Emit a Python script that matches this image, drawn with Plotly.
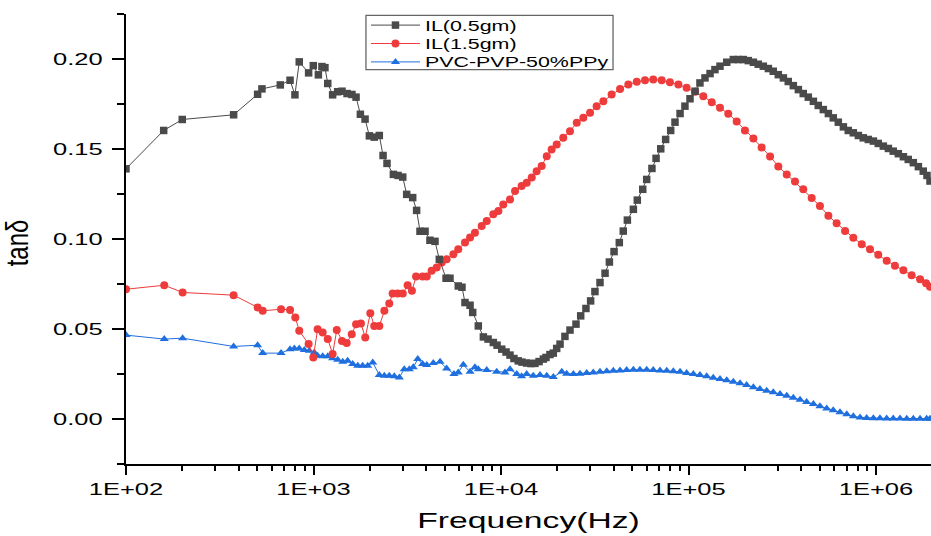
import numpy as np
import plotly.graph_objects as go

# ---------------- data ----------------
il05_log10f = [2.000, 2.201, 2.300, 2.574, 2.702, 2.725, 2.823, 2.875, 2.901, 2.924,
               2.974, 2.999, 3.026, 3.045, 3.061, 3.076, 3.102, 3.129, 3.152, 3.179,
               3.205, 3.227, 3.250, 3.275, 3.298, 3.324, 3.351, 3.371, 3.392, 3.426,
               3.451, 3.476, 3.497, 3.529, 3.550, 3.568, 3.595, 3.621, 3.648, 3.671,
               3.707, 3.728, 3.772, 3.792, 3.808, 3.835, 3.849, 3.879, 3.906, 3.931,
               3.959, 3.979, 4.004, 4.027, 4.048, 4.069, 4.092, 4.112, 4.137, 4.160,
               4.181, 4.203, 4.226, 4.240, 4.261, 4.279, 4.297, 4.315, 4.341, 4.368,
               4.400, 4.425, 4.453, 4.478, 4.501, 4.528, 4.555, 4.578, 4.603, 4.631,
               4.652, 4.674, 4.706, 4.727, 4.756, 4.777, 4.805, 4.827, 4.852, 4.878,
               4.905, 4.928, 4.955, 4.981, 5.008, 5.035, 5.061, 5.088, 5.115, 5.141,
               5.168, 5.204, 5.239, 5.266, 5.292, 5.319, 5.346, 5.372, 5.399, 5.426,
               5.452, 5.479, 5.506, 5.532, 5.559, 5.586, 5.612, 5.639, 5.666, 5.692,
               5.719, 5.746, 5.772, 5.799, 5.826, 5.852, 5.879, 5.906, 5.932, 5.959,
               5.986, 6.012, 6.039, 6.066, 6.092, 6.119, 6.146, 6.172, 6.199, 6.226,
               6.252, 6.272, 6.288]
il05_tan = [0.1390, 0.1603, 0.1664, 0.1690, 0.1804, 0.1834, 0.1856, 0.1882, 0.1801, 0.1984,
            0.1923, 0.1963, 0.1912, 0.1958, 0.1952, 0.1864, 0.1801, 0.1818, 0.1821, 0.1808,
            0.1803, 0.1788, 0.1693, 0.1666, 0.1573, 0.1566, 0.1575, 0.1464, 0.1420, 0.1359,
            0.1353, 0.1344, 0.1248, 0.1230, 0.1159, 0.1043, 0.1043, 0.0993, 0.0987, 0.0887,
            0.0782, 0.0782, 0.0739, 0.0732, 0.0647, 0.0632, 0.0592, 0.0517, 0.0456, 0.0444,
            0.0425, 0.0410, 0.0388, 0.0372, 0.0355, 0.0336, 0.0323, 0.0316, 0.0311, 0.0308,
            0.0309, 0.0319, 0.0333, 0.0342, 0.0358, 0.0366, 0.0392, 0.0416, 0.0459, 0.0494,
            0.0527, 0.0573, 0.0614, 0.0656, 0.0708, 0.0758, 0.0810, 0.0872, 0.0930, 0.0980,
            0.1044, 0.1105, 0.1165, 0.1216, 0.1276, 0.1331, 0.1392, 0.1448, 0.1501, 0.1553,
            0.1603, 0.1649, 0.1697, 0.1738, 0.1779, 0.1821, 0.1867, 0.1895, 0.1919, 0.1941,
            0.1960, 0.1982, 0.1997, 0.1997, 0.1997, 0.1991, 0.1982, 0.1971, 0.1960, 0.1947,
            0.1932, 0.1913, 0.1895, 0.1875, 0.1852, 0.1830, 0.1808, 0.1788, 0.1765, 0.1742,
            0.1719, 0.1697, 0.1673, 0.1649, 0.1623, 0.1603, 0.1590, 0.1575, 0.1562, 0.1553,
            0.1544, 0.1531, 0.1516, 0.1503, 0.1488, 0.1474, 0.1457, 0.1442, 0.1424, 0.1402,
            0.1377, 0.1353, 0.1322]

il15_log10f = [2.000, 2.204, 2.302, 2.574, 2.702, 2.729, 2.827, 2.875, 2.903, 2.924,
               2.974, 2.999, 3.022, 3.049, 3.076, 3.102, 3.124, 3.152, 3.177, 3.204,
               3.227, 3.253, 3.276, 3.303, 3.324, 3.351, 3.378, 3.404, 3.422, 3.449,
               3.476, 3.502, 3.525, 3.547, 3.582, 3.604, 3.630, 3.657, 3.684, 3.710,
               3.746, 3.772, 3.808, 3.835, 3.861, 3.897, 3.924, 3.959, 3.986, 4.012,
               4.048, 4.075, 4.110, 4.137, 4.164, 4.190, 4.217, 4.244, 4.270, 4.297,
               4.332, 4.368, 4.404, 4.439, 4.475, 4.510, 4.546, 4.590, 4.635, 4.679,
               4.724, 4.768, 4.812, 4.857, 4.901, 4.946, 4.990, 5.035, 5.079, 5.124,
               5.168, 5.212, 5.257, 5.301, 5.346, 5.390, 5.435, 5.479, 5.524, 5.568,
               5.612, 5.657, 5.701, 5.746, 5.790, 5.835, 5.879, 5.924, 5.968, 6.012,
               6.057, 6.101, 6.146, 6.190, 6.235, 6.267, 6.288]
il15_tan = [0.0721, 0.0743, 0.0703, 0.0688, 0.0620, 0.0601, 0.0610, 0.0606, 0.0564, 0.0490,
            0.0416, 0.0342, 0.0499, 0.0481, 0.0444, 0.0361, 0.0494, 0.0434, 0.0422, 0.0471,
            0.0527, 0.0531, 0.0453, 0.0588, 0.0517, 0.0517, 0.0601, 0.0642, 0.0697, 0.0697,
            0.0697, 0.0743, 0.0712, 0.0791, 0.0791, 0.0791, 0.0823, 0.0841, 0.0869, 0.0887,
            0.0915, 0.0943, 0.0980, 0.1008, 0.1035, 0.1072, 0.1100, 0.1137, 0.1155, 0.1192,
            0.1220, 0.1266, 0.1294, 0.1313, 0.1341, 0.1377, 0.1405, 0.1460, 0.1497, 0.1525,
            0.1562, 0.1599, 0.1646, 0.1673, 0.1701, 0.1738, 0.1765, 0.1803, 0.1834, 0.1858,
            0.1873, 0.1882, 0.1886, 0.1882, 0.1871, 0.1858, 0.1840, 0.1818, 0.1793, 0.1760,
            0.1729, 0.1696, 0.1653, 0.1603, 0.1558, 0.1509, 0.1459, 0.1403, 0.1359, 0.1320,
            0.1276, 0.1228, 0.1183, 0.1129, 0.1087, 0.1045, 0.1007, 0.0971, 0.0943, 0.0912,
            0.0879, 0.0851, 0.0826, 0.0799, 0.0776, 0.0754, 0.0735]

ppy_log10f = [2.000, 2.204, 2.302, 2.574, 2.702, 2.729, 2.827, 2.875, 2.898, 2.924,
              2.951, 2.978, 3.004, 3.022, 3.049, 3.076, 3.102, 3.129, 3.156, 3.182,
              3.209, 3.236, 3.262, 3.289, 3.316, 3.351, 3.378, 3.404, 3.431, 3.458,
              3.484, 3.511, 3.532, 3.556, 3.582, 3.604, 3.639, 3.675, 3.710, 3.749,
              3.772, 3.799, 3.835, 3.861, 3.879, 3.924, 3.977, 4.021, 4.048, 4.084,
              4.110, 4.137, 4.172, 4.208, 4.244, 4.279, 4.324, 4.350, 4.386, 4.421,
              4.457, 4.492, 4.528, 4.564, 4.599, 4.635, 4.670, 4.706, 4.741, 4.777,
              4.812, 4.848, 4.884, 4.919, 4.955, 4.990, 5.026, 5.061, 5.097, 5.132,
              5.168, 5.204, 5.239, 5.275, 5.310, 5.346, 5.381, 5.417, 5.452, 5.488,
              5.524, 5.559, 5.595, 5.630, 5.666, 5.701, 5.737, 5.772, 5.808, 5.844,
              5.879, 5.915, 5.950, 5.986, 6.021, 6.057, 6.092, 6.128, 6.164, 6.199,
              6.235, 6.270, 6.288]
ppy_tan = [0.0466, 0.0444, 0.0449, 0.0403, 0.0410, 0.0366, 0.0366, 0.0388, 0.0392, 0.0392,
           0.0383, 0.0379, 0.0370, 0.0351, 0.0348, 0.0348, 0.0337, 0.0329, 0.0318, 0.0323,
           0.0305, 0.0296, 0.0296, 0.0296, 0.0314, 0.0244, 0.0240, 0.0240, 0.0237, 0.0231,
           0.0277, 0.0277, 0.0287, 0.0333, 0.0305, 0.0300, 0.0311, 0.0318, 0.0281, 0.0250,
           0.0259, 0.0301, 0.0262, 0.0287, 0.0277, 0.0272, 0.0262, 0.0259, 0.0277, 0.0250,
           0.0238, 0.0250, 0.0240, 0.0244, 0.0240, 0.0233, 0.0262, 0.0252, 0.0250, 0.0252,
           0.0255, 0.0259, 0.0262, 0.0265, 0.0268, 0.0270, 0.0272, 0.0273, 0.0274, 0.0273,
           0.0272, 0.0270, 0.0268, 0.0265, 0.0262, 0.0256, 0.0250, 0.0244, 0.0237, 0.0229,
           0.0222, 0.0215, 0.0207, 0.0198, 0.0189, 0.0177, 0.0166, 0.0157, 0.0148, 0.0139,
           0.0129, 0.0118, 0.0107, 0.0094, 0.0083, 0.0071, 0.0059, 0.0048, 0.0037, 0.0026,
           0.0015, 0.0009, 0.0006, 0.0004, 0.0004, 0.0003, 0.0003, 0.0003, 0.0002, 0.0002,
           0.0002, 0.0002, 0.0002]

series_names = ["IL(0.5gm)", "IL(1.5gm)", "PVC-PVP-50%PPy"]
x_tick_values = [1e2, 1e3, 1e4, 1e5, 1e6]
x_tick_labels = ["1E+02", "1E+03", "1E+04", "1E+05", "1E+06"]
y_tick_values = [0.00, 0.05, 0.10, 0.15, 0.20]
y_tick_labels = ["0.00", "0.05", "0.10", "0.15", "0.20"]

# ---------------- figure ----------------
FONT = "Liberation Sans, Arial, sans-serif"
C_BLACK = "#4a4a4a"
C_RED = "#ee3b3b"
C_BLUE = "#1f6fde"

fig = go.Figure()
fig.add_trace(go.Scatter(
    x=np.power(10.0, ppy_log10f), y=ppy_tan, name=series_names[2],
    mode="lines+markers", legendrank=3,
    line=dict(color=C_BLUE, width=1),
    marker=dict(symbol="triangle-up", size=8, color=C_BLUE)))
fig.add_trace(go.Scatter(
    x=np.power(10.0, il15_log10f), y=il15_tan, name=series_names[1],
    mode="lines+markers", legendrank=2,
    line=dict(color=C_RED, width=1),
    marker=dict(symbol="circle", size=8, color=C_RED)))
fig.add_trace(go.Scatter(
    x=np.power(10.0, il05_log10f), y=il05_tan, name=series_names[0],
    mode="lines+markers", legendrank=1,
    line=dict(color=C_BLACK, width=1),
    marker=dict(symbol="square", size=7.5, color=C_BLACK)))

minor_x = [m * 10 ** d for d in range(2, 7) for m in range(2, 10)]

fig.update_layout(
    width=931, height=536,
    margin=dict(l=126, r=0, t=14, b=72),
    paper_bgcolor="white", plot_bgcolor="white",
    font=dict(family=FONT, color="black"),
    showlegend=True,
    legend=dict(x=0.2981, y=1.010, xanchor="left", yanchor="top",
                bgcolor="rgba(0,0,0,0)", borderwidth=0,
                font=dict(size=14, color="black"), itemwidth=49),
    shapes=[dict(type="rect", xref="paper", yref="paper",
                 x0=0.2981, x1=0.605, y0=0.8762, y1=0.9971,
                 line=dict(color="#666666", width=1.3), fillcolor="rgba(0,0,0,0)")],
)

fig.update_xaxes(
    type="log", range=[2, 2 + 805 / 187.5],
    tickmode="array", tickvals=x_tick_values, ticktext=x_tick_labels,
    ticks="outside", ticklen=9, tickwidth=1.5, tickcolor="black",
    showline=True, linecolor="black", linewidth=2,
    showgrid=False, zeroline=False,
    minor=dict(tickmode="array", tickvals=minor_x, ticks="outside",
               ticklen=5, tickwidth=1.5, tickcolor="black", showgrid=False),
    tickfont=dict(size=17, family=FONT, color="black"),
    title=dict(text="Frequency(Hz)", font=dict(size=22, family=FONT, color="black"),
               standoff=14),
)
fig.update_yaxes(
    range=[-0.025, 0.225],
    tickmode="array", tickvals=y_tick_values, ticktext=y_tick_labels,
    ticks="outside", ticklen=12, tickwidth=1.8, tickcolor="black",
    showline=True, linecolor="black", linewidth=2,
    showgrid=False, zeroline=False,
    minor=dict(tick0=0, dtick=0.025, ticks="outside", ticklen=7,
               tickwidth=1.8, tickcolor="black", showgrid=False),
    tickfont=dict(size=17, family=FONT, color="black"),
    ticklabelstandoff=6,
    title=dict(text="tanδ", font=dict(size=24, family=FONT, color="black"),
               standoff=34),
)

# The reference image is horizontally stretched (~1.5x); reproduce that on the
# text elements after plotting, and tighten the legend row spacing.
post = """
document.documentElement.style.margin='0';
document.body.style.margin='0';document.body.style.overflow='hidden';
var st=document.createElement('style');
st.textContent='.legend .scrollbox{clip-path:none !important}';
document.head.appendChild(st);
function hstretch(t,k,prepend,dy){
  var ax=parseFloat(t.getAttribute('x')||0);
  var tr=t.getAttribute('transform')||'';
  var s='translate('+ax+','+(dy||0)+') scale('+k+',1) translate('+(-ax)+',0)';
  t.setAttribute('transform', prepend ? (s+' '+tr) : (tr+' '+s));
}
document.querySelectorAll('.xtick text, .ytick text').forEach(function(t){hstretch(t,1.5,false,0);});
document.querySelectorAll('.legendtext').forEach(function(t){hstretch(t,1.53,false,0);});
document.querySelectorAll('.xtitle').forEach(function(t){hstretch(t,1.53,false,0);});
document.querySelectorAll('.ytitle').forEach(function(t){hstretch(t,1.3,true,4);});
var items=Array.prototype.slice.call(document.querySelectorAll('.legend .traces'));
if(items.length){
  var tops=items.map(function(g){return g.getBoundingClientRect().top;});
  items.forEach(function(g,i){
    var shift=(tops[0]+i*18.4)-tops[i];
    var tr=g.getAttribute('transform')||'';
    g.setAttribute('transform', tr+' translate(0,'+shift+')');
  });
}
"""
fig.write_html("out.html", post_script=post, config={"displayModeBar": False})
